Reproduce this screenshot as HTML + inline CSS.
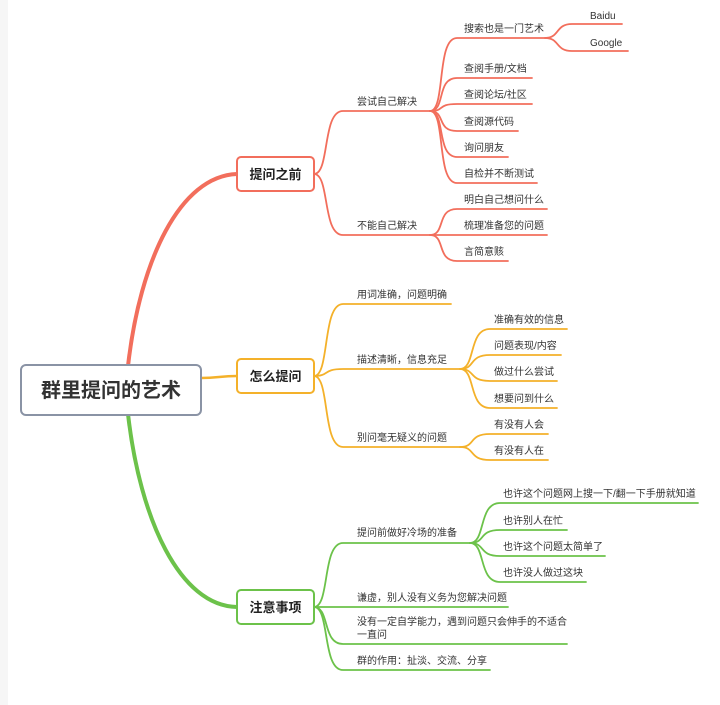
<!DOCTYPE html>
<html><head><meta charset="utf-8"><style>
body{margin:0;background:#fff}
svg{display:block}
text{font-family:"Liberation Sans","Noto Sans CJK SC",sans-serif;font-size:10px;fill:#333}
.b{font-size:13px;font-weight:bold;fill:#222}
.r{font-size:20px;font-weight:bold;fill:#333}
path{fill:none;stroke-linecap:round}
.R{stroke:#f26e5c;stroke-width:1.8}
.Y{stroke:#f4b12a;stroke-width:1.8}
.G{stroke:#6cc24a;stroke-width:1.8}
</style></head><body>
<svg width="720" height="705" viewBox="0 0 720 705">
<rect x="0" y="0" width="720" height="705" fill="#fff"/>
<rect x="0" y="0" width="8" height="705" fill="#f6f6f6"/>
<!-- main branches -->
<path d="M128 366 C140 260 180 176 237 174" stroke="#f26e5c" stroke-width="4"/>
<path d="M201 378 C218 378 220 376 237 376" stroke="#f4b12a" stroke-width="2.5"/>
<path d="M128 414 C140 520 180 606 237 607" stroke="#6cc24a" stroke-width="4"/>
<!-- red -->
<path class="R" d="M314 174 C330 174 322 111 343 111 L430 111"/>
<path class="R" d="M314 174 C330 174 322 235 343 235 L430 235"/>
<path class="R" d="M430 111 C446 111 436 38 457 38 L545 38"/>
<path class="R" d="M430 111 C446 111 436 78 457 78 L532 78"/>
<path class="R" d="M430 111 C446 111 436 104 457 104 L532 104"/>
<path class="R" d="M430 111 C446 111 436 131 457 131 L518 131"/>
<path class="R" d="M430 111 C446 111 436 157 457 157 L508 157"/>
<path class="R" d="M430 111 C446 111 436 183 457 183 L537 183"/>
<path class="R" d="M430 235 C446 235 436 209 457 209 L547 209"/>
<path class="R" d="M430 235 L547 235"/>
<path class="R" d="M430 235 C446 235 436 261 457 261 L508 261"/>
<path class="R" d="M545 38 C560 38 555 24 572 24 L622 24"/>
<path class="R" d="M545 38 C560 38 555 51 572 51 L628 51"/>
<!-- yellow -->
<path class="Y" d="M314 376 C330 376 322 304 343 304 L451 304"/>
<path class="Y" d="M314 376 C330 376 322 369 343 369 L460 369"/>
<path class="Y" d="M314 376 C330 376 322 447 343 447 L460 447"/>
<path class="Y" d="M460 369 C476 369 468 329 490 329 L567 329"/>
<path class="Y" d="M460 369 C476 369 468 355 490 355 L561 355"/>
<path class="Y" d="M460 369 C476 369 468 381 490 381 L557 381"/>
<path class="Y" d="M460 369 C476 369 468 408 490 408 L557 408"/>
<path class="Y" d="M460 447 C476 447 468 434 490 434 L548 434"/>
<path class="Y" d="M460 447 C476 447 468 460 490 460 L548 460"/>
<!-- green -->
<path class="G" d="M314 607 C330 607 322 543 343 543 L470 543"/>
<path class="G" d="M314 607 L508 607"/>
<path class="G" d="M314 607 C330 607 322 644 343 644 L567 644"/>
<path class="G" d="M314 607 C330 607 322 670 343 670 L490 670"/>
<path class="G" d="M470 543 C486 543 478 503 500 503 L698 503"/>
<path class="G" d="M470 543 C486 543 478 530 500 530 L567 530"/>
<path class="G" d="M470 543 C486 543 478 556 500 556 L605 556"/>
<path class="G" d="M470 543 C486 543 478 582 500 582 L586 582"/>
<!-- boxes -->
<rect x="21" y="365" width="180" height="50" rx="5" fill="#fff" stroke="#8a93a5" stroke-width="2"/>
<text class="r" x="111" y="397" text-anchor="middle">群里提问的艺术</text>
<rect x="237" y="157" width="77" height="34" rx="4" fill="#fff" stroke="#f26e5c" stroke-width="2"/>
<text class="b" x="275.5" y="179" text-anchor="middle">提问之前</text>
<rect x="237" y="359" width="77" height="34" rx="4" fill="#fff" stroke="#f4b12a" stroke-width="2"/>
<text class="b" x="275.5" y="381" text-anchor="middle">怎么提问</text>
<rect x="237" y="590" width="77" height="34" rx="4" fill="#fff" stroke="#6cc24a" stroke-width="2"/>
<text class="b" x="275.5" y="612" text-anchor="middle">注意事项</text>
<!-- labels red -->
<text x="357" y="105">尝试自己解决</text>
<text x="357" y="229">不能自己解决</text>
<text x="464" y="32">搜索也是一门艺术</text>
<text x="590" y="19">Baidu</text>
<text x="590" y="46">Google</text>
<text x="464" y="72">查阅手册/文档</text>
<text x="464" y="98">查阅论坛/社区</text>
<text x="464" y="125">查阅源代码</text>
<text x="464" y="151">询问朋友</text>
<text x="464" y="177">自检并不断测试</text>
<text x="464" y="203">明白自己想问什么</text>
<text x="464" y="229">梳理准备您的问题</text>
<text x="464" y="255">言简意赅</text>
<!-- yellow -->
<text x="357" y="298">用词准确，问题明确</text>
<text x="357" y="363">描述清晰，信息充足</text>
<text x="357" y="441">别问毫无疑义的问题</text>
<text x="494" y="323">准确有效的信息</text>
<text x="494" y="349">问题表现/内容</text>
<text x="494" y="375">做过什么尝试</text>
<text x="494" y="402">想要问到什么</text>
<text x="494" y="428">有没有人会</text>
<text x="494" y="454">有没有人在</text>
<!-- green -->
<text x="357" y="536">提问前做好冷场的准备</text>
<text x="357" y="601">谦虚，别人没有义务为您解决问题</text>
<text x="357" y="625">没有一定自学能力，遇到问题只会伸手的不适合</text>
<text x="357" y="638">一直问</text>
<text x="357" y="664">群的作用：扯淡、交流、分享</text>
<text x="503" y="497">也许这个问题网上搜一下/翻一下手册就知道</text>
<text x="503" y="524">也许别人在忙</text>
<text x="503" y="550">也许这个问题太简单了</text>
<text x="503" y="576">也许没人做过这块</text>
</svg>
</body></html>
